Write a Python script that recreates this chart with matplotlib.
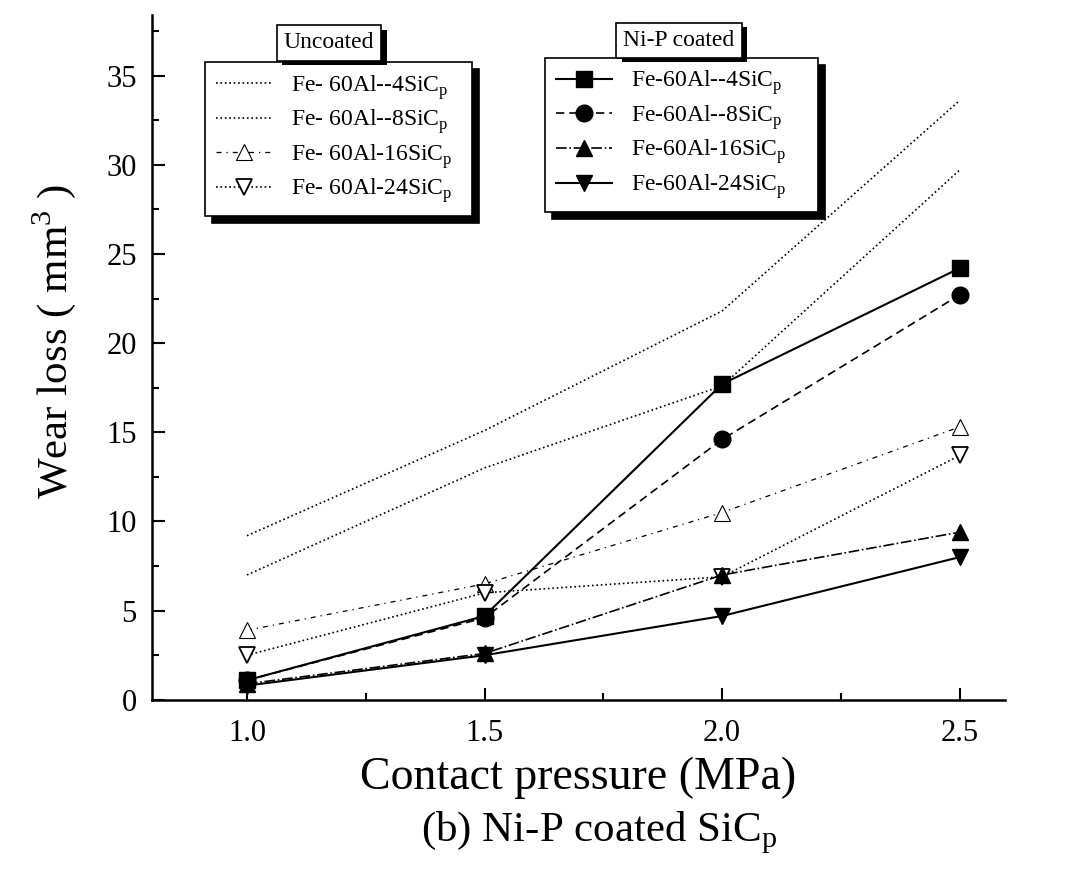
import matplotlib
matplotlib.use('Agg')
import matplotlib.pyplot as plt
import matplotlib.patheffects as pe

plt.rcParams['font.family'] = ['Liberation Serif', 'DejaVu Serif']
plt.rcParams['mathtext.fontset'] = 'custom'
plt.rcParams['mathtext.rm'] = 'Liberation Serif'

# Contact pressure (MPa)
pressure = [1.0, 1.5, 2.0, 2.5]

# Uncoated SiCp composites, wear loss (mm^3)
unc_4 = [9.2, 15.1, 21.8, 33.6]
unc_8 = [7.0, 13.0, 17.6, 29.7]
unc_16 = [3.9, 6.5, 10.5, 15.3]
unc_24 = [2.5, 6.0, 6.9, 13.7]

# Ni-P coated SiCp composites, wear loss (mm^3)
nip_4 = [1.1, 4.7, 17.7, 24.2]
nip_8 = [1.1, 4.6, 14.6, 22.7]
nip_16 = [0.9, 2.6, 7.0, 9.4]
nip_24 = [0.8, 2.5, 4.7, 8.0]

unc_labels = ['Fe- 60Al--4SiC$_\\mathregular{p}$', 'Fe- 60Al--8SiC$_\\mathregular{p}$',
              'Fe- 60Al-16SiC$_\\mathregular{p}$', 'Fe- 60Al-24SiC$_\\mathregular{p}$']
nip_labels = ['Fe-60Al--4SiC$_\\mathregular{p}$', 'Fe-60Al--8SiC$_\\mathregular{p}$',
              'Fe-60Al-16SiC$_\\mathregular{p}$', 'Fe-60Al-24SiC$_\\mathregular{p}$']

fig = plt.figure(figsize=(10.7, 8.77), dpi=100)
ax = fig.add_axes([0.142, 0.202, 0.797, 0.781])

# uncoated: thin dotted lines, hollow markers
h1 = []
h1 += ax.plot(pressure, unc_4, ':', color='k', lw=1.2, label=unc_labels[0])
h1 += ax.plot(pressure, unc_8, ':', color='k', lw=1.2, label=unc_labels[1])
h1 += ax.plot(pressure, unc_16, linestyle=(0, (4, 4, 1, 4)), color='k', lw=0.9, marker='^',
              ms=11, mfc='white', mec='k', mew=0.8, label=unc_labels[2])
h1 += ax.plot(pressure, unc_24, ':', color='k', lw=1.2, marker='v',
              ms=12, mfc='white', mec='k', mew=1.3, label=unc_labels[3])

# Ni-P coated: filled markers
h2 = []
h2 += ax.plot(pressure, nip_4, '-', color='k', lw=1.5, marker='s', ms=11, label=nip_labels[0])
h2 += ax.plot(pressure, nip_8, '--', color='k', lw=1.2, dashes=(5, 3), marker='o', ms=12, label=nip_labels[1])
h2 += ax.plot(pressure, nip_16, '-.', color='k', lw=1.2, marker='^', ms=12, label=nip_labels[2])
h2 += ax.plot(pressure, nip_24, '-', color='k', lw=1.5, marker='v', ms=12, label=nip_labels[3])

ax.set_xlim(0.8, 2.595)
ax.set_ylim(0, 38.4)
ax.set_xticks([1.0, 1.5, 2.0, 2.5])
ax.set_xticks([1.25, 1.75, 2.25], minor=True)
ax.set_xticklabels(['1.0', '1.5', '2.0', '2.5'])
ax.set_yticks(range(0, 36, 5))
ax.set_yticks([2.5, 7.5, 12.5, 17.5, 22.5, 27.5, 32.5, 37.5], minor=True)
ax.tick_params(direction='in', which='major', length=9, width=1.5, labelsize=22)
ax.tick_params(axis='x', which='major', pad=14)
ax.tick_params(axis='y', which='major', pad=11)
ax.tick_params(direction='in', which='minor', length=5, width=1.5)
for s in ['top', 'right']:
    ax.spines[s].set_visible(False)
for s in ['left', 'bottom']:
    ax.spines[s].set_linewidth(1.8)

ax.set_ylabel('Wear loss ( mm$^\\mathregular{3}$ )', fontsize=31)
ax.yaxis.set_label_coords(-0.087, 0.523)
ax.set_xlabel('Contact pressure (MPa)', fontsize=33, labelpad=6)
fig.text(0.56, 0.050, '(b) Ni-P coated SiC$_\\mathregular{p}$', fontsize=31, ha='center', va='center')

shadow = {'ox': 5, 'oy': -5, 'color': 'k', 'alpha': 1}
leg_kw = dict(fontsize=17, frameon=True, fancybox=False, shadow=shadow, edgecolor='k',
              framealpha=1, handlelength=2.4, handletextpad=0.8, labelspacing=0.25,
              borderpad=0.45, borderaxespad=0, mode='expand',
              bbox_transform=fig.transFigure, loc='upper left')
leg1 = ax.legend(handles=h1, bbox_to_anchor=(0.1916, 0.764, 0.2495, 0.165), **leg_kw)
leg1.get_frame().set_linewidth(1.2)
ax.add_artist(leg1)
leg2 = ax.legend(handles=h2, bbox_to_anchor=(0.5093, 0.764, 0.2551, 0.170), **leg_kw)
leg2.get_frame().set_linewidth(1.2)

# title tabs on top of each legend box
tab_fx = [pe.withSimplePatchShadow(offset=(4, -3), shadow_rgbFace='k', alpha=1)]
t1 = fig.text(0.3075, 0.951, 'Uncoated', fontsize=17, ha='center', va='center',
              bbox=dict(boxstyle='square,pad=0.3', fc='white', ec='k', lw=1.2))
t2 = fig.text(0.6346, 0.954, 'Ni-P coated', fontsize=17, ha='center', va='center',
              bbox=dict(boxstyle='square,pad=0.3', fc='white', ec='k', lw=1.2))
for t in (t1, t2):
    t.get_bbox_patch().set_path_effects(tab_fx)

fig.savefig('out.png', dpi=100)
